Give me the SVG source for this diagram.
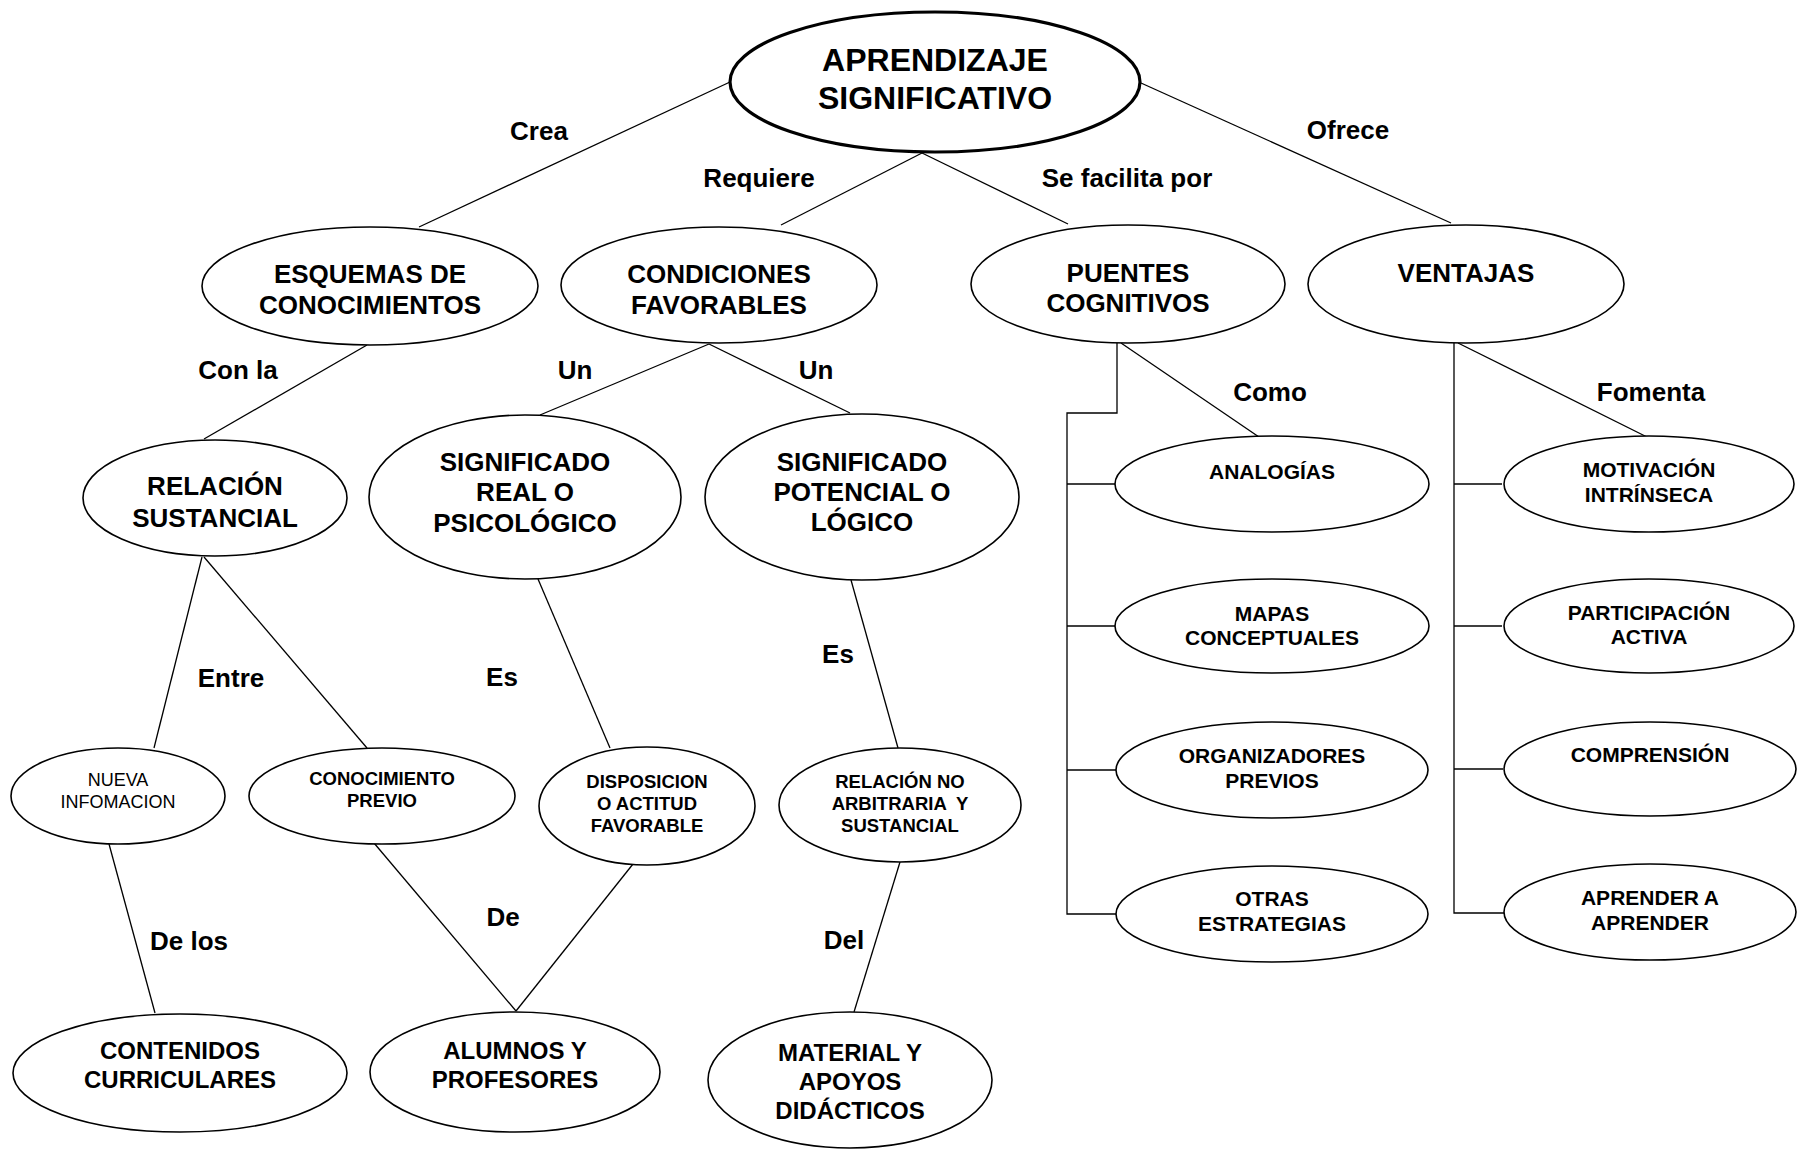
<svg xmlns="http://www.w3.org/2000/svg" width="1803" height="1150" viewBox="0 0 1803 1150">
<style>
  .n ellipse { fill: #fff; stroke: #000; stroke-width: 1.6; }
  .root ellipse { stroke-width: 3.2; }
  text { font-family: "Liberation Sans", Arial, sans-serif; font-weight: bold; fill: #000; text-anchor: middle; }
  .t32 { font-size: 32px; }
  .t26 { font-size: 26px; }
  .t24 { font-size: 24px; }
  .t21 { font-size: 21px; }
  .t18 { font-size: 18.5px; }
  .reg { font-weight: normal; font-size: 18px; }
  .lbl { font-size: 26px; }
  #connectors line, #connectors polyline { stroke: #000; stroke-width: 1.3; fill: none; }
</style>
<rect width="1803" height="1150" fill="#fff"/>

<g id="connectors">
  <line x1="730" y1="82" x2="419" y2="227"/>
  <line x1="922" y1="153" x2="781" y2="225"/>
  <line x1="922" y1="153" x2="1068" y2="224"/>
  <line x1="1141" y1="83" x2="1451" y2="223"/>
  <line x1="367" y1="345" x2="204" y2="439"/>
  <line x1="709" y1="344" x2="540" y2="415"/>
  <line x1="709" y1="344" x2="850" y2="413"/>
  <line x1="202" y1="557" x2="154" y2="748"/>
  <line x1="204" y1="557" x2="367" y2="748"/>
  <line x1="538" y1="579" x2="610" y2="748"/>
  <line x1="851" y1="580" x2="898" y2="748"/>
  <line x1="109" y1="844" x2="155" y2="1013"/>
  <line x1="374" y1="843" x2="516" y2="1011"/>
  <line x1="633" y1="864" x2="516" y2="1011"/>
  <line x1="900" y1="862" x2="854" y2="1012"/>
  <polyline points="1117,343 1117,413 1067,413 1067,914 1116,914"/>
  <line x1="1067" y1="484" x2="1115" y2="484"/>
  <line x1="1067" y1="626" x2="1115" y2="626"/>
  <line x1="1067" y1="770" x2="1116" y2="770"/>
  <line x1="1121" y1="343" x2="1259" y2="437"/>
  <polyline points="1454,343 1454,913 1504,913"/>
  <line x1="1454" y1="484" x2="1502" y2="484"/>
  <line x1="1454" y1="626" x2="1502" y2="626"/>
  <line x1="1454" y1="769" x2="1503" y2="769"/>
  <line x1="1458" y1="343" x2="1647" y2="437"/>
</g>

<g id="labels">
  <text class="lbl" x="539" y="140">Crea</text>
  <text class="lbl" x="759" y="187">Requiere</text>
  <text class="lbl" x="1127" y="187">Se facilita por</text>
  <text class="lbl" x="1348" y="139">Ofrece</text>
  <text class="lbl" x="238" y="379">Con la</text>
  <text class="lbl" x="575" y="379">Un</text>
  <text class="lbl" x="816" y="379">Un</text>
  <text class="lbl" x="1270" y="401">Como</text>
  <text class="lbl" x="1651" y="401">Fomenta</text>
  <text class="lbl" x="231" y="687">Entre</text>
  <text class="lbl" x="502" y="686">Es</text>
  <text class="lbl" x="838" y="663">Es</text>
  <text class="lbl" x="189" y="950">De los</text>
  <text class="lbl" x="503" y="926">De</text>
  <text class="lbl" x="844" y="949">Del</text>
</g>

<g id="n-root" class="n root">
  <ellipse cx="935" cy="82" rx="205" ry="70"/>
  <text class="t32" x="935" y="70.5">APRENDIZAJE</text>
  <text class="t32" x="935" y="108.5">SIGNIFICATIVO</text>
</g>

<g id="n-esquemas" class="n">
  <ellipse cx="370" cy="286" rx="168" ry="59"/>
  <text class="t26" x="370" y="283">ESQUEMAS DE</text>
  <text class="t26" x="370" y="314">CONOCIMIENTOS</text>
</g>
<g id="n-condiciones" class="n">
  <ellipse cx="719" cy="285" rx="158" ry="58"/>
  <text class="t26" x="719" y="283">CONDICIONES</text>
  <text class="t26" x="719" y="314">FAVORABLES</text>
</g>
<g id="n-puentes" class="n">
  <ellipse cx="1128" cy="284" rx="157" ry="59"/>
  <text class="t26" x="1128" y="282">PUENTES</text>
  <text class="t26" x="1128" y="312">COGNITIVOS</text>
</g>
<g id="n-ventajas" class="n">
  <ellipse cx="1466" cy="284" rx="158" ry="59"/>
  <text class="t26" x="1466" y="282">VENTAJAS</text>
</g>

<g id="n-relacion" class="n">
  <ellipse cx="215" cy="498" rx="132" ry="58"/>
  <text class="t26" x="215" y="495">RELACIÓN</text>
  <text class="t26" x="215" y="527">SUSTANCIAL</text>
</g>
<g id="n-sig-real" class="n">
  <ellipse cx="525" cy="497" rx="156" ry="82"/>
  <text class="t26" x="525" y="471">SIGNIFICADO</text>
  <text class="t26" x="525" y="501">REAL O</text>
  <text class="t26" x="525" y="532">PSICOLÓGICO</text>
</g>
<g id="n-sig-potencial" class="n">
  <ellipse cx="862" cy="497" rx="157" ry="83"/>
  <text class="t26" x="862" y="471">SIGNIFICADO</text>
  <text class="t26" x="862" y="501">POTENCIAL O</text>
  <text class="t26" x="862" y="531">LÓGICO</text>
</g>

<g id="n-analogias" class="n">
  <ellipse cx="1272" cy="484" rx="157" ry="48"/>
  <text class="t21" x="1272" y="478.5">ANALOGÍAS</text>
</g>
<g id="n-mapas" class="n">
  <ellipse cx="1272" cy="626" rx="157" ry="47"/>
  <text class="t21" x="1272" y="620.5">MAPAS</text>
  <text class="t21" x="1272" y="644.5">CONCEPTUALES</text>
</g>
<g id="n-organizadores" class="n">
  <ellipse cx="1272" cy="770" rx="156" ry="48"/>
  <text class="t21" x="1272" y="762.5">ORGANIZADORES</text>
  <text class="t21" x="1272" y="787.5">PREVIOS</text>
</g>
<g id="n-otras" class="n">
  <ellipse cx="1272" cy="914" rx="156" ry="48"/>
  <text class="t21" x="1272" y="905.5">OTRAS</text>
  <text class="t21" x="1272" y="930.5">ESTRATEGIAS</text>
</g>

<g id="n-motivacion" class="n">
  <ellipse cx="1649" cy="484" rx="145" ry="48"/>
  <text class="t21" x="1649" y="476.5">MOTIVACIÓN</text>
  <text class="t21" x="1649" y="501.5">INTRÍNSECA</text>
</g>
<g id="n-participacion" class="n">
  <ellipse cx="1649" cy="626" rx="145" ry="47"/>
  <text class="t21" x="1649" y="619.5">PARTICIPACIÓN</text>
  <text class="t21" x="1649" y="643.5">ACTIVA</text>
</g>
<g id="n-comprension" class="n">
  <ellipse cx="1650" cy="769" rx="146" ry="47"/>
  <text class="t21" x="1650" y="761.5">COMPRENSIÓN</text>
</g>
<g id="n-aprender" class="n">
  <ellipse cx="1650" cy="912" rx="146" ry="48"/>
  <text class="t21" x="1650" y="904.5">APRENDER A</text>
  <text class="t21" x="1650" y="929.5">APRENDER</text>
</g>

<g id="n-nueva" class="n">
  <ellipse cx="118" cy="796" rx="107" ry="48"/>
  <text class="reg" x="118" y="786">NUEVA</text>
  <text class="reg" x="118" y="807.5">INFOMACION</text>
</g>
<g id="n-conocimiento" class="n">
  <ellipse cx="382" cy="796" rx="133" ry="48"/>
  <text class="t18" x="382" y="785">CONOCIMIENTO</text>
  <text class="t18" x="382" y="806.5">PREVIO</text>
</g>
<g id="n-disposicion" class="n">
  <ellipse cx="647" cy="806" rx="108" ry="59"/>
  <text class="t18" x="647" y="788">DISPOSICION</text>
  <text class="t18" x="647" y="810">O ACTITUD</text>
  <text class="t18" x="647" y="832">FAVORABLE</text>
</g>
<g id="n-relacion-no" class="n">
  <ellipse cx="900" cy="805" rx="121" ry="57"/>
  <text class="t18" x="900" y="788">RELACIÓN NO</text>
  <text class="t18" x="900" y="810" xml:space="preserve">ARBITRARIA  Y</text>
  <text class="t18" x="900" y="832">SUSTANCIAL</text>
</g>

<g id="n-contenidos" class="n">
  <ellipse cx="180" cy="1073" rx="167" ry="59"/>
  <text class="t24" x="180" y="1058.5">CONTENIDOS</text>
  <text class="t24" x="180" y="1087.5">CURRICULARES</text>
</g>
<g id="n-alumnos" class="n">
  <ellipse cx="515" cy="1072" rx="145" ry="60"/>
  <text class="t24" x="515" y="1058.5">ALUMNOS Y</text>
  <text class="t24" x="515" y="1087.5">PROFESORES</text>
</g>
<g id="n-material" class="n">
  <ellipse cx="850" cy="1080" rx="142" ry="68"/>
  <text class="t24" x="850" y="1060.5">MATERIAL Y</text>
  <text class="t24" x="850" y="1089.5">APOYOS</text>
  <text class="t24" x="850" y="1118.5">DIDÁCTICOS</text>
</g>
</svg>
